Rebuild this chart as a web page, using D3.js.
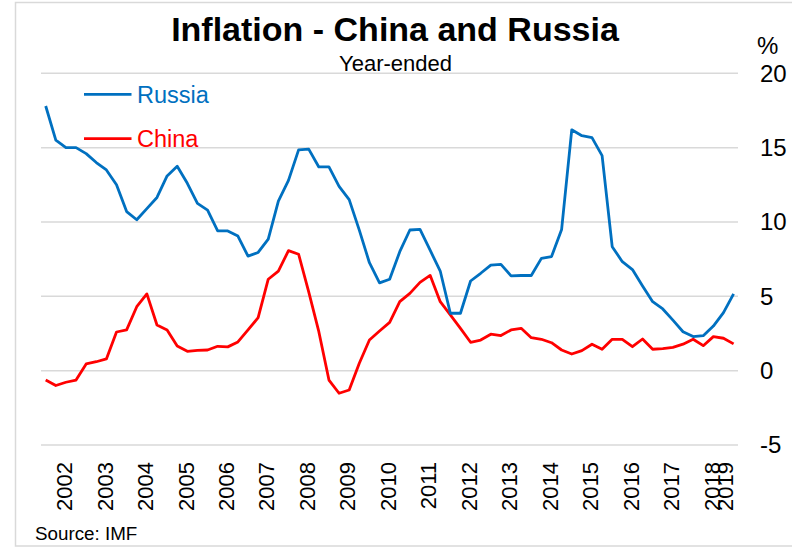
<!DOCTYPE html>
<html>
<head>
<meta charset="utf-8">
<script src="https://cdn.jsdelivr.net/npm/d3@7"></script>
<style>
  body { margin: 0; background: #fff; }
  text { font-family: "Liberation Sans", Arial, sans-serif; }
</style>
</head>
<body>
<div id="chart"></div>
<script>
// Year-ended inflation, quarterly observations (%)
const russia = [
  17.8, 15.5, 15.0, 15.0, 14.6, 14.0, 13.5, 12.5, 10.7, 10.15,
  10.9, 11.65, 13.1, 13.75, 12.6, 11.25, 10.8, 9.4, 9.4, 9.05,
  7.7, 7.95, 8.85, 11.4, 12.8, 14.85, 14.9, 13.7, 13.7, 12.4,
  11.5, 9.45, 7.26, 5.9, 6.15, 8.0, 9.46, 9.5, 8.1, 6.7,
  3.86, 3.86, 6.03, 6.55, 7.1, 7.15, 6.37, 6.4, 6.4, 7.55,
  7.67, 9.5, 16.2, 15.8, 15.67, 14.46, 8.34, 7.33, 6.8, 5.7,
  4.64, 4.15, 3.4, 2.62, 2.29, 2.35, 3.0, 3.9, 5.16
];
const china = [
  -0.63, -1.0, -0.78, -0.63, 0.45, 0.6, 0.79, 2.6, 2.74, 4.3,
  5.16, 3.07, 2.74, 1.66, 1.3, 1.37, 1.39, 1.64, 1.6, 1.93,
  2.74, 3.56, 6.15, 6.7, 8.07, 7.83, 5.3, 2.62, -0.63, -1.52,
  -1.3, 0.5, 2.06, 2.67, 3.25, 4.64, 5.2, 5.94, 6.41, 4.64,
  3.75, 2.85, 1.91, 2.06, 2.45, 2.36, 2.74, 2.85, 2.22, 2.11,
  1.88, 1.39, 1.12, 1.35, 1.78, 1.44, 2.11, 2.11, 1.61, 2.13,
  1.44, 1.48, 1.57, 1.78, 2.11, 1.68, 2.29, 2.18, 1.8
];
const yearLabels = ["2002","2003","2004","2005","2006","2007","2008","2009","2010",
  "2011","2012","2013","2014","2015","2016","2017","2018","2019"];
// position of each year label along the quarterly index
const yearTickIndex = [1.85, 5.85, 9.85, 13.85, 17.85, 21.85, 25.85, 29.85, 33.85,
  37.85, 41.85, 45.85, 49.85, 53.85, 57.85, 61.85, 65.85, 67.2];
const yTicks = [-5, 0, 5, 10, 15, 20];

const width = 792, height = 547;
const svg = d3.select("#chart").append("svg")
  .attr("width", width)
  .attr("height", height);

// outer frame
svg.append("rect")
  .attr("x", 15.5).attr("y", 2.5)
  .attr("width", 800).attr("height", 543.5)
  .attr("fill", "none")
  .attr("stroke", "#d9d9d9")
  .attr("stroke-width", 1.5);

const x = d3.scaleLinear().domain([0, russia.length - 1]).range([45.7, 733.6]);
const y = d3.scaleLinear().domain([-5, 20]).range([445, 73.3]);

// gridlines
svg.append("g")
  .selectAll("line")
  .data(yTicks)
  .join("line")
  .attr("x1", 41).attr("x2", 738)
  .attr("y1", d => y(d)).attr("y2", d => y(d))
  .attr("stroke", "#d9d9d9")
  .attr("stroke-width", 1.5);

// right axis labels
svg.append("g")
  .selectAll("text")
  .data(yTicks)
  .join("text")
  .attr("x", 760)
  .attr("y", d => y(d))
  .attr("dy", "0.35em")
  .attr("font-size", 24)
  .attr("fill", "#000")
  .text(d => d);

svg.append("text")
  .attr("x", 757).attr("y", 54)
  .attr("font-size", 24)
  .text("%");

// x axis year labels
svg.append("g")
  .selectAll("text")
  .data(yearLabels)
  .join("text")
  .attr("transform", (d, i) => `translate(${x(yearTickIndex[i])},462) rotate(-90)`)
  .attr("text-anchor", "end")
  .attr("dy", "0.35em")
  .attr("font-size", 22)
  .text(d => d);

// lines
const line = d3.line()
  .x((d, i) => x(i))
  .y(d => y(d));

svg.append("path")
  .datum(china)
  .attr("fill", "none")
  .attr("stroke", "#ff0000")
  .attr("stroke-width", 2.8)
  .attr("stroke-linejoin", "round")
  .attr("d", line);

svg.append("path")
  .datum(russia)
  .attr("fill", "none")
  .attr("stroke", "#0070c0")
  .attr("stroke-width", 2.8)
  .attr("stroke-linejoin", "round")
  .attr("d", line);

// legend
const legend = [
  { name: "Russia", color: "#0070c0", y: 94.3 },
  { name: "China", color: "#ff0000", y: 138.7 }
];
const lg = svg.append("g");
lg.selectAll("line")
  .data(legend)
  .join("line")
  .attr("x1", 84).attr("x2", 131.5)
  .attr("y1", d => d.y).attr("y2", d => d.y)
  .attr("stroke", d => d.color)
  .attr("stroke-width", 2.8);
lg.selectAll("text")
  .data(legend)
  .join("text")
  .attr("x", 137)
  .attr("y", d => d.y + 8.4)
  .attr("font-size", 23.5)
  .attr("fill", d => d.color)
  .text(d => d.name);

// titles
svg.append("text")
  .attr("x", 395).attr("y", 41)
  .attr("text-anchor", "middle")
  .attr("font-size", 34)
  .attr("font-weight", "bold")
  .text("Inflation - China and Russia");

svg.append("text")
  .attr("x", 395.5).attr("y", 71)
  .attr("text-anchor", "middle")
  .attr("font-size", 22)
  .text("Year-ended");

svg.append("text")
  .attr("x", 35).attr("y", 540)
  .attr("font-size", 18.8)
  .text("Source: IMF");
</script>
</body>
</html>
